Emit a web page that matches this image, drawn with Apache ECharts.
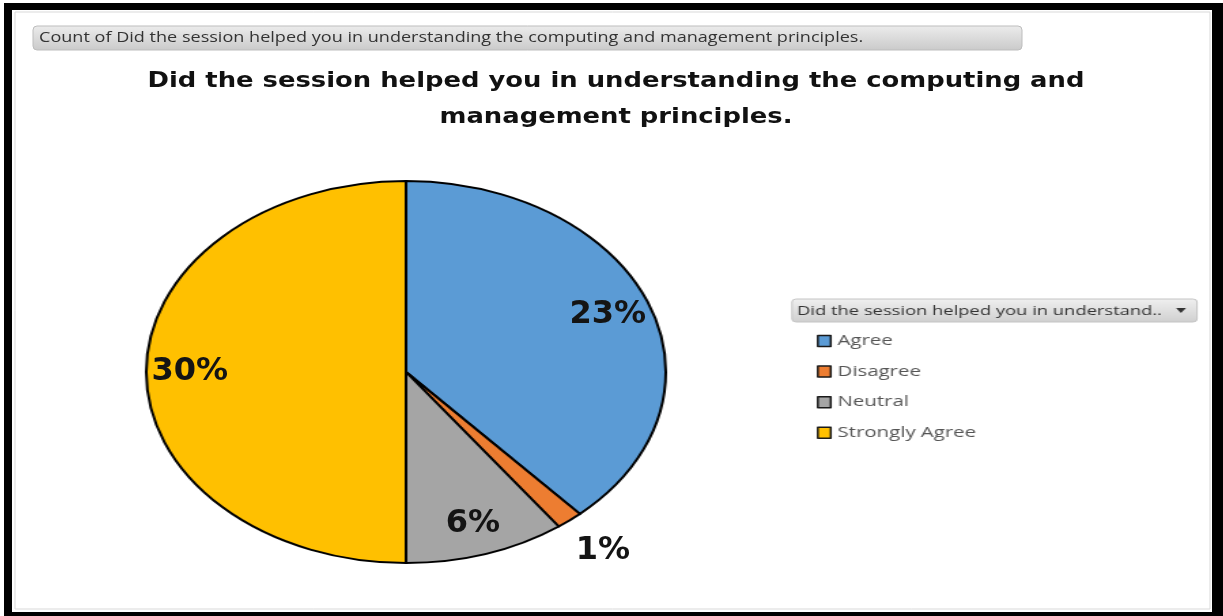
<!DOCTYPE html>
<html>
<head>
<meta charset="utf-8">
<script src="https://cdn.jsdelivr.net/npm/echarts@6/dist/echarts.min.js"></script>
<style>
  html, body { margin: 0; padding: 0; background: #fff; }
  #frame { position: absolute; left: 4px; top: 3px; width: 1200px; height: 602px;
           border-left: 8px solid #000; border-top: 7px solid #000;
           border-right: 11px solid #000; border-bottom: 4px solid #000; background: #fff; }
  #pie { position: absolute; left: 0; top: 0; width: 1000px; height: 616px;
         transform: scaleX(1.36); transform-origin: 406px 0; }
  #main { position: absolute; left: 0; top: 0; width: 1223px; height: 616px; pointer-events: none; }
</style>
</head>
<body>
<div id="frame"></div>
<div id="pie"></div>
<div id="main"></div>
<script>
// ---- data ----
const categories = ['Agree', 'Disagree', 'Neutral', 'Strongly Agree'];
const counts = [23, 1, 6, 30];
const headerText = 'Count of Did the session helped you in understanding the computing and management principles.';
const titleText = 'Did the session helped you in understanding the computing and\nmanagement principles.';
const legendTitle = 'Did the session helped you in understand..';

// ---- style / layout ----
const colors = ['#5B9BD5', '#ED7D31', '#A5A5A5', '#FFC000'];
const CX = 406, CY = 372, R = 191, SX = 1.36;
const lx = X => CX + (X - CX) / SX;   // screen x -> x inside the stretched pie layer

const pieData = categories.map((n, i) => ({ name: n, value: counts[i], itemStyle: { color: colors[i] } }));

const pieChart = echarts.init(document.getElementById('pie'), null, { renderer: 'canvas' });
pieChart.setOption({
  animation: false,
  graphic: [
    { type: 'rect', shape: { x: lx(792), y: 299, width: 405 / SX, height: 23, r: 3 },
      style: { fill: new echarts.graphic.LinearGradient(0, 0, 0, 1, [{ offset: 0, color: '#f0f0f0' }, { offset: 1, color: '#cfcfcf' }]),
               stroke: '#c4c4c4', lineWidth: 1 } },
    { type: 'text', x: lx(797), y: 311, style: { text: legendTitle, fontFamily: 'Open Sans', fontSize: 13.5, fill: '#333', verticalAlign: 'middle' } },
    { type: 'polygon', shape: { points: [[lx(1176), 308], [lx(1186), 308], [lx(1181), 313]] }, style: { fill: '#333' } }
  ],
  legend: {
    orient: 'vertical',
    left: lx(810), top: 328,
    icon: 'rect',
    itemWidth: 9.5, itemHeight: 11,
    itemGap: 14.6,
    textStyle: { fontFamily: 'Open Sans', fontSize: 15, color: '#555', lineHeight: 16 },
    data: categories.map((n, i) => ({ name: n, itemStyle: { color: colors[i], borderColor: '#1a1a1a', borderWidth: 1.5 } }))
  },
  series: [{
    type: 'pie',
    center: [CX, CY],
    radius: R,
    startAngle: 90,
    clockwise: true,
    silent: true,
    label: { show: false },
    labelLine: { show: false },
    itemStyle: { borderColor: '#000', borderWidth: 2 },
    data: pieData
  }]
});

const labelFont = { fontSize: 32, fontWeight: 'bold', fontFamily: 'DejaVu Sans', color: '#141414' };
const stretch = p => ({ dx: (p.labelRect.x + p.labelRect.width / 2 - CX) * (SX - 1) });

const main = echarts.init(document.getElementById('main'), null, { renderer: 'canvas' });
main.setOption({
  animation: false,
  backgroundColor: 'transparent',
  graphic: [
    { type: 'rect', shape: { x: 15, y: 12, width: 1195, height: 597 }, style: { fill: 'none', stroke: '#d9d9d9', lineWidth: 1 } },
    { type: 'rect', shape: { x: 33, y: 26, width: 989, height: 24, r: 4 },
      style: { fill: new echarts.graphic.LinearGradient(0, 0, 0, 1, [{ offset: 0, color: '#ececec' }, { offset: 1, color: '#cacaca' }]),
               stroke: '#bdbdbd', lineWidth: 1 } },
    { type: 'text', x: 39, y: 38, scaleX: 1.29,
      style: { text: headerText, fontFamily: 'Open Sans', fontSize: 14, fill: '#333', verticalAlign: 'middle' } },
    { type: 'text', x: 616, y: 100, scaleX: 1.23,
      style: { text: titleText, fontFamily: 'DejaVu Sans', fontWeight: 'bold', fontSize: 21, lineHeight: 36,
               fill: '#111', align: 'center', verticalAlign: 'middle' } }
  ],
  series: [
    {
      type: 'pie', center: [CX, CY], radius: [120, R + 1], startAngle: 90, clockwise: true,
      silent: true, avoidLabelOverlap: false,
      itemStyle: { color: 'rgba(0,0,0,0)' },
      label: Object.assign({ show: true, position: 'inside', formatter: '{c}%' }, labelFont),
      labelLine: { show: false },
      labelLayout: stretch,
      data: categories.map((n, i) => ({ name: n, value: counts[i], label: { show: i !== 1 } }))
    },
    {
      type: 'pie', center: [CX, CY], radius: [198, 256], startAngle: 90, clockwise: true,
      silent: true, avoidLabelOverlap: false,
      itemStyle: { color: 'rgba(0,0,0,0)' },
      label: Object.assign({ show: true, position: 'inside', formatter: '{c}%' }, labelFont),
      labelLine: { show: false },
      labelLayout: stretch,
      data: categories.map((n, i) => ({ name: n, value: counts[i], label: { show: i === 1 } }))
    }
  ]
});
</script>
</body>
</html>
